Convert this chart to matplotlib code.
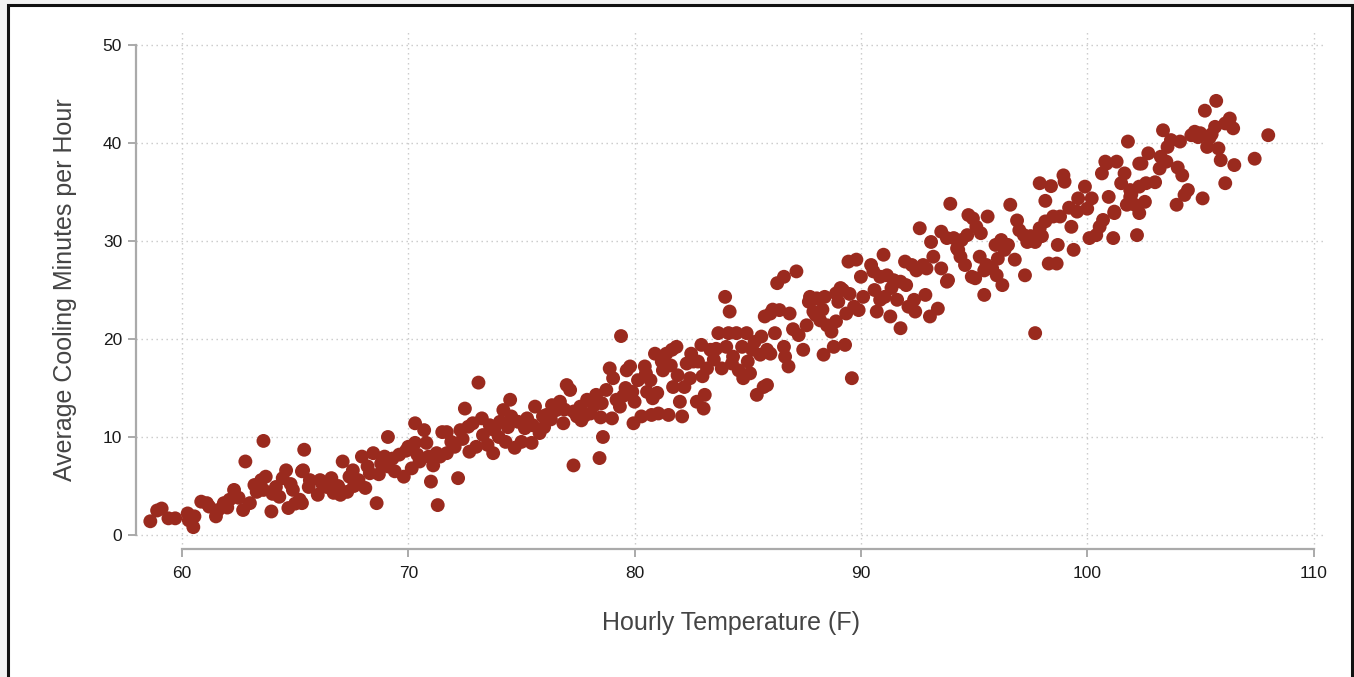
import matplotlib
matplotlib.use("Agg")
import matplotlib.pyplot as plt
from matplotlib.patches import Rectangle

# Hourly temperature (F) vs. average cooling minutes per hour, grouped by temperature band
temp_a = [58.6, 58.9, 59.1, 59.4, 59.7, 60.25, 60.5, 60.55, 60.85, 61.1,
          61.5, 61.6, 61.85, 62.1, 62.3, 62.7, 63.0, 62.8, 63.6, 63.2,
          63.5, 63.7, 63.6, 63.95, 64.15, 64.3, 64.6, 64.45, 64.7, 64.9,
          65.2, 65.3, 65.4, 65.6, 60.3, 61.2, 62.0, 62.5, 63.3, 64.0,
          64.8, 65.0]
cool_a = [1.4, 2.5, 2.7, 1.7, 1.7, 2.2, 0.8, 1.9, 3.4, 3.25,
          1.9, 2.55, 3.25, 3.6, 4.6, 2.55, 3.25, 7.5, 9.6, 5.1,
          5.6, 5.95, 4.6, 2.4, 4.9, 3.9, 6.6, 5.8, 2.75, 4.6,
          3.6, 6.5, 8.7, 4.9, 1.5, 2.9, 2.8, 3.8, 4.4, 4.2,
          5.2, 3.2]

temp_b = [65.35, 65.3, 65.65, 66.0, 66.1, 66.4, 66.6, 66.7, 67.0, 67.1,
          67.3, 67.4, 67.55, 67.8, 67.95, 68.1, 68.3, 68.45, 68.6, 68.8,
          69.1, 69.1, 68.95, 69.4, 69.6, 69.8, 70.0, 70.15, 70.3, 70.3,
          70.5, 70.7, 70.8, 71.0, 71.1, 71.25, 71.3, 71.5, 71.7, 71.7,
          72.2, 72.05, 72.3, 72.5, 72.65, 72.7, 72.85, 73.0, 66.2, 66.9,
          67.6, 68.2, 68.7, 69.3, 69.9, 70.4, 70.9, 71.4, 71.9, 72.4]
cool_b = [6.6, 3.25, 5.6, 4.1, 5.6, 4.9, 5.8, 4.3, 4.1, 7.5,
          4.4, 5.95, 6.6, 5.6, 8.0, 4.8, 6.3, 8.35, 3.25, 7.3,
          10.0, 7.0, 8.0, 6.5, 8.2, 5.95, 9.0, 6.8, 11.4, 9.4,
          7.5, 10.7, 9.4, 5.45, 7.1, 8.35, 3.05, 10.5, 10.5, 8.35,
          5.8, 9.0, 10.7, 12.9, 11.05, 8.5, 11.4, 9.0, 5.2, 5.0,
          5.0, 7.0, 6.2, 7.8, 8.6, 8.2, 8.0, 8.0, 9.5, 9.8]

temp_c = [73.1, 73.25, 73.3, 73.5, 73.75, 73.8, 74.05, 74.2, 74.3, 74.5,
          74.55, 74.7, 74.85, 75.0, 75.15, 75.25, 75.45, 75.6, 75.8, 75.95,
          76.1, 76.35, 76.55, 76.7, 76.85, 77.0, 77.15, 77.3, 77.45, 77.6,
          77.65, 77.9, 78.05, 78.3, 78.45, 78.6, 78.55, 78.75, 78.9, 79.0,
          79.05, 79.2, 79.35, 79.6, 79.8, 79.65, 79.95, 80.0, 79.4, 73.6,
          74.0, 74.4, 75.5, 76.0, 76.3, 76.9, 77.3, 77.8, 78.2, 78.5,
          79.5, 79.9]
cool_c = [15.55, 11.9, 10.2, 9.2, 8.35, 10.7, 11.55, 12.75, 9.5, 13.8,
          12.1, 8.9, 11.55, 9.5, 10.9, 11.9, 9.4, 13.1, 10.4, 12.1,
          12.25, 13.25, 12.75, 13.6, 11.4, 15.3, 14.8, 7.1, 12.1, 13.1,
          11.7, 13.8, 12.4, 14.3, 7.85, 10.0, 13.45, 14.8, 17.0, 11.9,
          16.0, 13.8, 13.1, 15.0, 17.2, 16.8, 11.4, 13.6, 20.3, 11.2,
          10.0, 11.0, 11.2, 11.0, 11.8, 12.8, 12.6, 12.2, 13.2, 12.0,
          14.2, 14.6]

temp_d = [80.15, 80.3, 80.45, 80.55, 80.7, 80.75, 80.8, 80.9, 81.05, 81.2,
          81.25, 81.4, 81.5, 81.65, 81.7, 81.85, 81.9, 82.0, 82.1, 82.2,
          82.3, 82.45, 82.6, 82.8, 82.75, 82.95, 83.05, 83.1, 83.2, 83.35,
          83.5, 83.7, 83.85, 84.0, 84.05, 84.2, 84.15, 84.35, 84.5, 84.6,
          84.75, 84.8, 84.95, 85.0, 85.2, 85.3, 85.4, 85.55, 85.7, 85.75,
          85.85, 86.0, 86.1, 86.2, 86.3, 80.5, 81.0, 81.6, 82.5, 83.0,
          83.6, 84.3, 85.1, 85.6, 85.85, 86.0]
cool_d = [15.8, 12.1, 17.2, 14.6, 15.8, 12.25, 13.95, 18.5, 12.4, 17.7,
          16.8, 18.5, 12.25, 18.9, 15.1, 19.2, 16.3, 13.6, 12.1, 15.1,
          17.5, 16.0, 17.7, 17.7, 13.6, 19.4, 12.9, 14.3, 17.0, 18.9,
          17.9, 20.6, 17.0, 24.3, 19.2, 22.8, 20.6, 18.2, 20.6, 16.8,
          19.2, 16.0, 20.6, 17.7, 18.9, 19.7, 14.3, 18.4, 15.1, 22.3,
          18.9, 22.6, 23.0, 20.6, 25.7, 16.5, 14.5, 17.3, 18.5, 16.2,
          19.0, 17.5, 16.5, 20.25, 15.3, 18.5]

temp_e = [86.6, 86.4, 86.85, 86.6, 86.65, 86.8, 87.15, 87.25, 87.45, 87.6,
          87.75, 87.7, 88.05, 88.0, 88.2, 88.4, 88.5, 88.65, 88.7, 88.8,
          88.35, 88.9, 88.9, 89.1, 89.2, 89.3, 89.35, 89.45, 89.6, 89.7,
          89.8, 89.9, 90.0, 90.1, 90.45, 90.55, 90.6, 90.7, 90.85, 90.85,
          91.0, 91.05, 91.15, 91.3, 91.35, 91.45, 91.6, 91.75, 91.75, 91.95,
          92.0, 92.1, 92.25, 92.35, 92.4, 92.45, 92.6, 92.75, 92.85, 92.9,
          93.05, 93.1, 93.2, 93.4, 93.55, 93.55, 93.8, 93.85, 93.95, 94.1,
          94.25, 87.0, 87.9, 88.3, 89.0, 89.5]
cool_e = [26.35, 22.95, 22.6, 19.2, 18.2, 17.2, 26.9, 20.4, 18.9, 21.4,
          24.3, 23.8, 24.15, 22.45, 21.9, 24.3, 21.4, 21.25, 20.75, 19.2,
          18.4, 21.8, 24.65, 25.2, 25.0, 19.4, 22.6, 27.9, 16.0, 23.3,
          28.1, 22.95, 26.35, 24.3, 27.55, 26.9, 25.0, 22.8, 26.35, 24.0,
          28.6, 24.3, 26.5, 22.3, 25.2, 26.0, 24.0, 25.85, 21.1, 27.9,
          25.5, 23.3, 27.55, 24.0, 22.8, 27.0, 31.3, 27.55, 24.5, 27.2,
          22.3, 29.9, 28.4, 23.1, 30.95, 27.2, 30.3, 26.0, 33.8, 30.3,
          29.25, 21.0, 22.8, 23.0, 23.8, 24.6]

temp_f = [94.75, 94.95, 95.1, 95.6, 94.45, 94.3, 94.4, 94.6, 93.8, 94.9,
          95.05, 95.45, 96.25, 97.25, 95.25, 95.55, 95.45, 95.8, 96.05, 96.2,
          95.95, 96.35, 96.6, 96.9, 96.8, 97.0, 97.2, 97.35, 97.7, 97.9,
          98.15, 97.9, 98.4, 98.15, 98.3, 98.65, 98.7, 98.5, 98.8, 98.95,
          99.0, 99.3, 99.4, 99.55, 99.6, 99.9, 100.0, 100.2, 100.1, 100.4,
          100.55, 100.7, 100.65, 100.85, 100.95, 101.15, 101.2, 101.3, 101.5, 101.65,
          101.95, 102.2, 102.1, 102.3, 97.7, 94.7, 95.3, 96.0, 96.5, 97.5,
          98.0, 99.2]
cool_f = [32.65, 32.3, 31.45, 32.5, 30.1, 29.1, 28.4, 27.55, 25.85, 26.35,
          26.2, 24.5, 25.5, 26.5, 28.4, 27.55, 27.0, 27.2, 28.2, 30.1,
          29.6, 29.1, 33.7, 32.1, 28.1, 31.1, 30.6, 29.9, 29.9, 31.3,
          32.0, 35.9, 35.6, 34.1, 27.7, 27.7, 29.6, 32.5, 32.5, 36.7,
          36.05, 31.45, 29.1, 33.0, 34.35, 35.55, 33.3, 34.35, 30.3, 30.6,
          31.45, 32.15, 36.9, 37.9, 34.5, 30.3, 33.0, 38.1, 35.9, 36.9,
          34.75, 30.6, 33.7, 37.9, 20.6, 30.6, 30.8, 26.5, 29.6, 30.5,
          30.5, 33.4]

temp_g = [105.7, 105.2, 106.3, 106.45, 106.1, 105.65, 104.75, 105.0, 103.35, 101.8,
          108.0, 107.4, 106.5, 106.1, 105.9, 105.8, 105.3, 105.4, 104.6, 104.1,
          103.7, 103.55, 103.25, 103.5, 103.2, 102.7, 102.4, 100.8, 101.9, 102.6,
          102.3, 104.2, 104.45, 104.3, 105.1, 103.95, 102.55, 101.9, 101.75, 102.3,
          101.2, 104.9, 105.5, 103.0, 104.0]
cool_g = [44.3, 43.3, 42.5, 41.5, 42.0, 41.65, 41.15, 41.0, 41.3, 40.15,
          40.8, 38.4, 37.75, 35.9, 38.25, 39.45, 39.6, 40.5, 40.8, 40.15,
          40.3, 39.6, 38.6, 38.1, 37.4, 38.95, 37.9, 38.1, 35.2, 35.9,
          35.55, 36.7, 35.2, 34.7, 34.35, 33.7, 34.0, 34.5, 33.7, 32.85,
          32.85, 40.6, 40.9, 36.0, 37.5]

x_ticks = [60, 70, 80, 90, 100, 110]
y_ticks = [0, 10, 20, 30, 40, 50]
x_title = "Hourly Temperature (F)"
y_title = "Average Cooling Minutes per Hour"

temps = temp_a + temp_b + temp_c + temp_d + temp_e + temp_f + temp_g
cools = cool_a + cool_b + cool_c + cool_d + cool_e + cool_f + cool_g

plt.rcParams['font.family'] = ['Liberation Sans', 'DejaVu Sans']

W, H = 1354, 677
fig = plt.figure(figsize=(W / 100, H / 100), dpi=100, facecolor='#f2f2f2')

# white card with dark frame, kept behind the axes
card = Rectangle((8 / W, -0.02), (1352 - 8) / W, (H - 5) / H + 0.02,
                 transform=fig.transFigure, facecolor='white',
                 edgecolor='#111111', linewidth=2.2, zorder=-10)
fig.patches.append(card)

ax = fig.add_axes([136 / W, (H - 549) / H, (1325 - 136) / W, (549 - 32) / H])
ax.set_zorder(1)
ax.patch.set_visible(False)
ax.set_xlim(57.967, 110.508)
ax.set_ylim(-1.43, 51.33)

ax.set_xticks(x_ticks)
ax.set_yticks(y_ticks)
ax.grid(True, color='#c8c8c8', linestyle=(0, (1, 2.6)), linewidth=1.0, zorder=0)
ax.set_axisbelow(True)

for side in ('top', 'right'):
    ax.spines[side].set_visible(False)
ax.spines['left'].set_bounds(0, 50)
ax.spines['bottom'].set_bounds(60, 110)
for side in ('left', 'bottom'):
    ax.spines[side].set_color('#aaaaaa')
    ax.spines[side].set_linewidth(1.6)

ax.tick_params(axis='both', direction='out', length=6, width=1.4,
               color='#aaaaaa', labelsize=12.5, labelcolor='#1a1a1a')
ax.tick_params(axis='y', pad=4)
ax.tick_params(axis='x', pad=6)

ax.scatter(temps, cools, s=100, color='#9a2a1e', edgecolors='none', zorder=3)

fig.text((136 + 1325) / 2 / W, (H - 623) / H, x_title, ha='center', va='center',
         fontsize=18, color='#444444')
fig.text(65 / W, (H - 290) / H, y_title, ha='center', va='center',
         rotation=90, fontsize=18, color='#444444')

fig.savefig('out.png', dpi=100, facecolor=fig.get_facecolor())
